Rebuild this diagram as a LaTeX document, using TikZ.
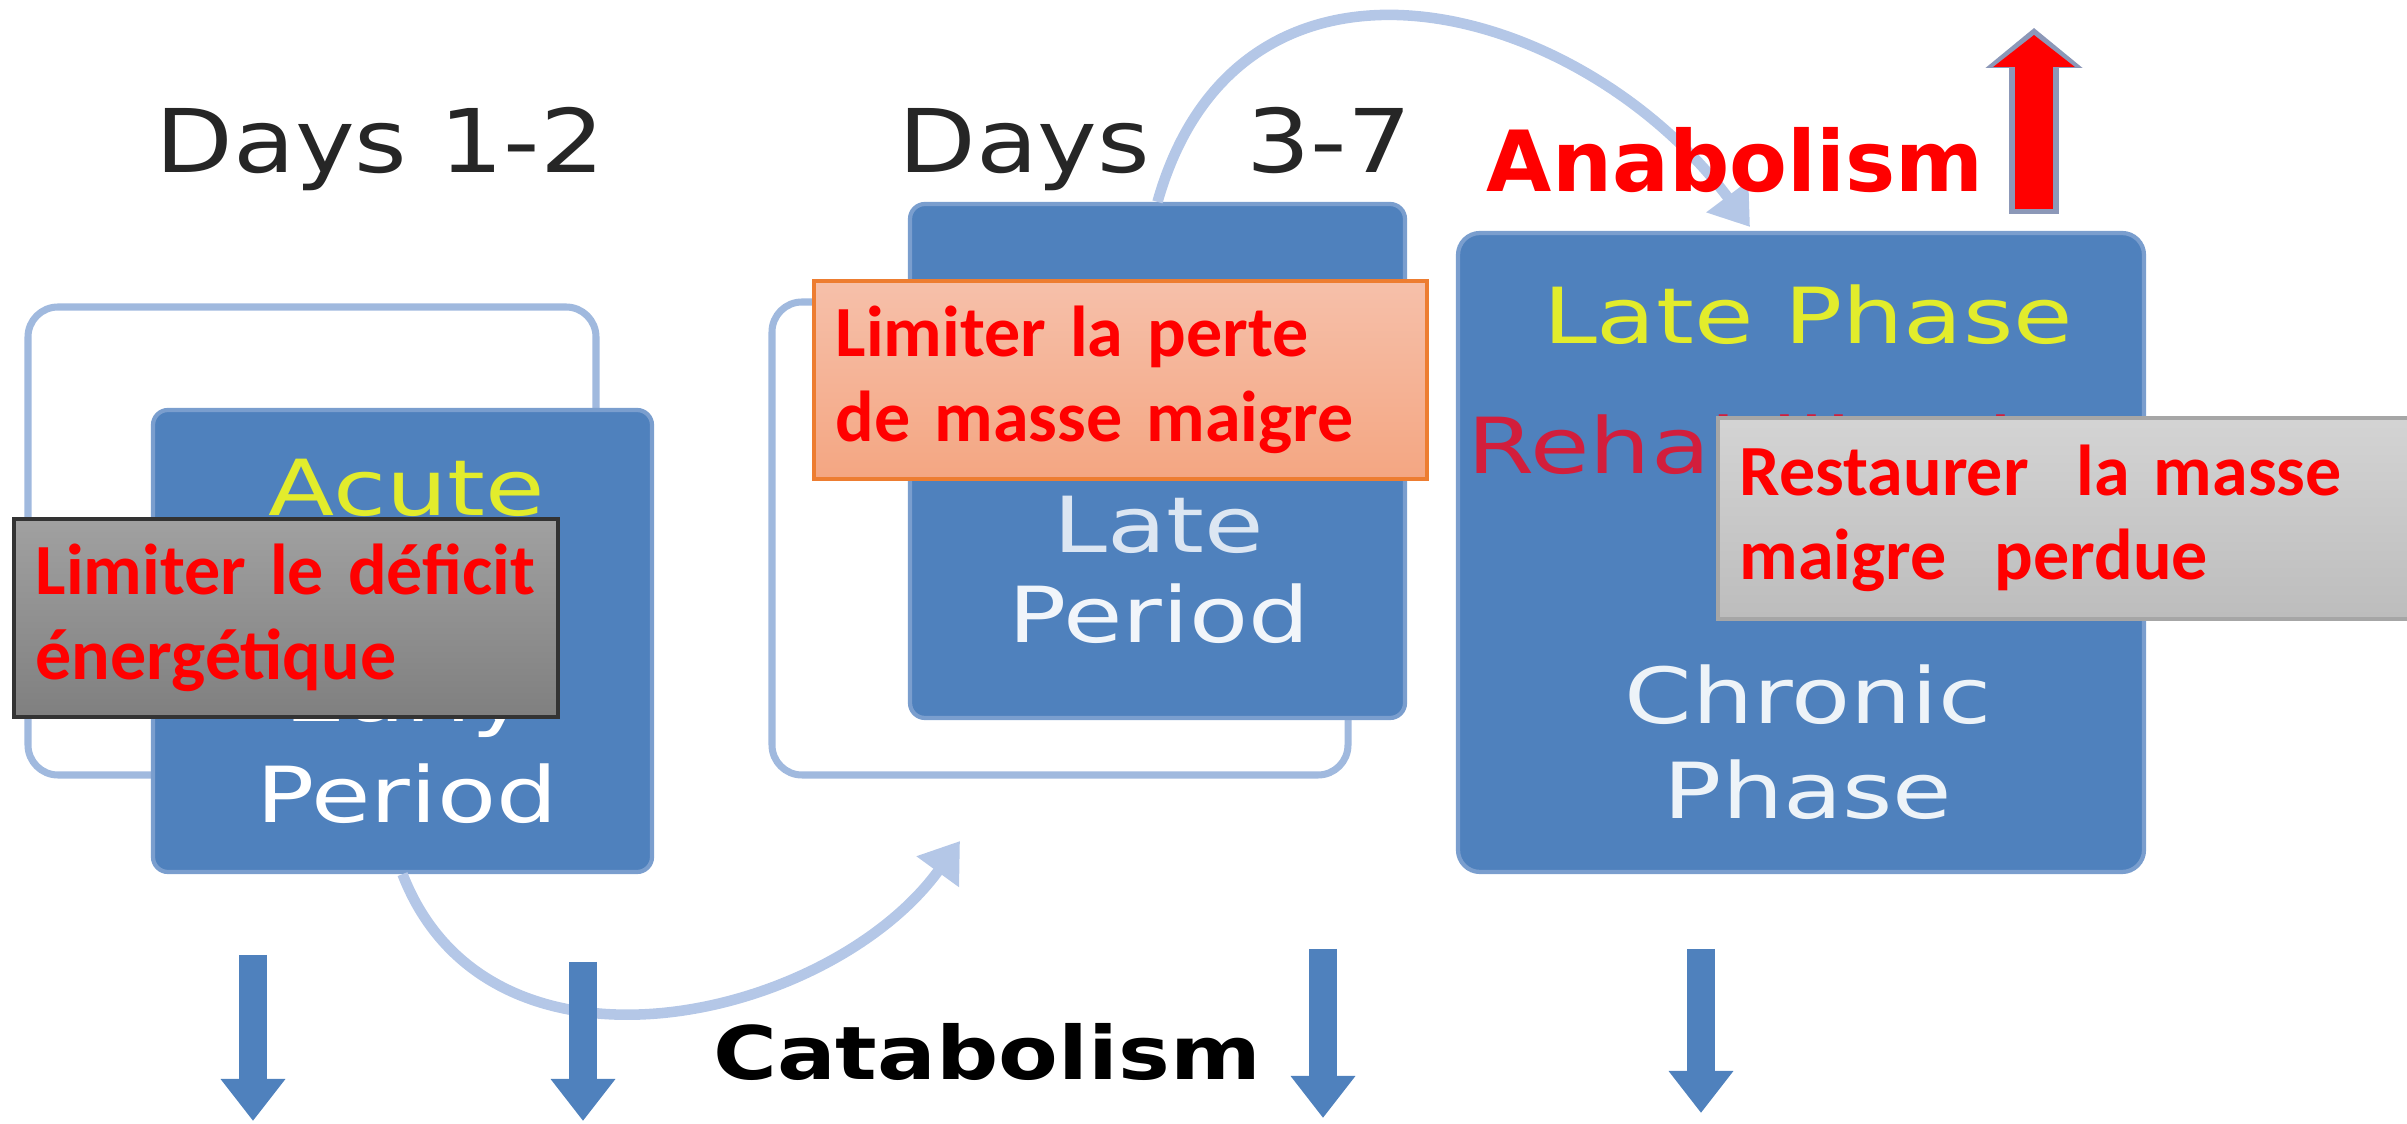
\documentclass[tikz,border=0pt]{standalone}
\usepackage{fontspec}
\setmainfont{DejaVu Sans}
\newfontfamily\widefont[FakeStretch=1.25]{DejaVu Sans}
\newfontfamily\dayfont[FakeStretch=1.15]{DejaVu Sans}
\newfontfamily\catfont[FakeStretch=1.18]{DejaVu Sans}
\newfontfamily\callfont{Carlito}
\usetikzlibrary{arrows.meta}

\definecolor{boxblue}{RGB}{79,129,189}
\definecolor{boxedge}{RGB}{122,158,206}
\definecolor{loopblue}{RGB}{160,185,222}
\definecolor{curveblue}{RGB}{180,199,231}
\definecolor{phaseyellow}{RGB}{226,236,44}
\definecolor{rehabred}{RGB}{210,30,60}
\definecolor{calloutred}{RGB}{255,0,0}
\definecolor{salmontop}{RGB}{246,192,170}
\definecolor{salmonbot}{RGB}{244,166,130}
\definecolor{salmonedge}{RGB}{237,125,49}
\definecolor{anaedge}{RGB}{140,152,184}

\begin{document}
\begin{tikzpicture}[x=1cm,y=-1cm,
    loopbox/.style={rectangle,rounded corners=0.3cm,draw=loopblue,line width=2pt,inner sep=0},
    phasebox/.style={rectangle,rounded corners=0.15cm,fill=boxblue,draw=boxedge,line width=1.2pt,inner sep=0},
    boxtext/.style={font=\widefont\fontsize{22}{26}\selectfont,text=white,inner sep=0},
    daytext/.style={font=\dayfont\fontsize{25}{30}\selectfont,text=black!85,inner sep=0},
    callout/.style={rectangle,anchor=north west,inner xsep=0.22cm,inner ysep=0,align=left,
      font=\callfont\bfseries\fontsize{20.5}{24}\selectfont,text=calloutred},
    curvearrow/.style={draw=curveblue,line width=3pt,-{Triangle[width=0.5cm,length=0.38cm]}},
    downarrow/.style={draw=boxblue,line width=0.28cm,-{Triangle[width=0.62cm,length=0.42cm]}}]
    \useasboundingbox (0,0) rectangle (24.07,11.24);

    % loops behind the first two periods
    \node[loopbox,minimum width=5.68cm,minimum height=4.68cm] (loopA) at (3.12,5.41) {};
    \node[loopbox,minimum width=5.76cm,minimum height=4.73cm] (loopB) at (10.60,5.385) {};

    % the three phases
    \node[phasebox,minimum width=4.99cm,minimum height=4.62cm] (early) at (4.025,6.41) {};
    \node[phasebox,minimum width=4.95cm,minimum height=5.14cm] (late) at (11.575,4.61) {};
    \node[phasebox,minimum width=6.86cm,minimum height=6.39cm,rounded corners=0.22cm] (chronic) at (18.01,5.525) {};

    \node[boxtext,text=phaseyellow] (acuteA) at (4.07,4.88) {Acute};
    \node[boxtext] (earlyA) at (4.07,7.00) {Early};
    \node[boxtext] (periodA) at (4.07,7.94) {Period};
    \node[boxtext,text=phaseyellow] (acuteB) at (11.59,3.12) {Acute};
    \node[boxtext,text=white!80!boxblue] (lateB) at (11.59,5.25) {Late};
    \node[boxtext,text=white!92!boxblue] (periodB) at (11.59,6.14) {Period};
    \node[boxtext,text=phaseyellow] (latephase) at (18.08,3.15) {Late Phase};
    \node[boxtext,text=rehabred] (rehab) at (18.01,4.45) {Rehabilitation};
    \node[boxtext,text=white!90!boxblue] (chronicC) at (18.08,6.95) {Chronic};
    \node[boxtext,text=white!90!boxblue] (phaseC) at (18.08,7.90) {Phase};

    % curved arrows between the phases
    \coordinate (intoB) at (9.60,8.41);
    \coordinate (intoC) at (17.50,2.27);
    \draw[curvearrow] (early.south) .. controls (4.9,11.0) and (8.3,10.2) .. (intoB);
    \draw[curvearrow] (late.north) .. controls (12.4,-0.9) and (15.8,0.0) .. (intoC);

    % goals
    \node[callout,draw=black!80,line width=1pt,top color=black!37,bottom color=black!50,
      text width=5.0cm,minimum height=1.98cm] (goalA) at (0.12,5.17)
      {\mbox{Limiter le déficit}\\énergétique};
    \node[callout,draw=salmonedge,line width=1pt,top color=salmontop,bottom color=salmonbot,
      text width=5.69cm,minimum height=1.98cm] (goalB) at (8.12,2.79)
      {Limiter la perte\\de masse maigre};
    \node[callout,draw=black!35,line width=1pt,top color=black!17,bottom color=black!26,
      text width=6.50cm,minimum height=2.01cm] (goalC) at (17.16,4.16)
      {Restaurer\ \ la masse\\maigre\ \ perdue};

    % days and metabolism
    \node[daytext] (days12) at (3.80,1.49) {Days 1-2};
    \node[daytext] (days37) at (11.55,1.49) {Days\ \ \ 3-7};
    \node[font=\bfseries\fontsize{24}{28}\selectfont,text=calloutred,inner sep=0] (anabolism) at (17.35,1.60) {Anabolism};
    \node[font=\catfont\bfseries\fontsize{21}{25}\selectfont,text=black,fill=white,inner sep=2pt] (catabolism) at (9.87,10.52) {Catabolism};

    \coordinate (anabot) at (20.34,2.14);
    \coordinate (anatop) at (20.34,0.28);
    \draw[draw=anaedge,line width=0.50cm,-{Triangle[width=0.95cm,length=0.40cm]}] (anabot) -- (anatop);
    \draw[draw=red,line width=0.38cm,shorten <=0.05cm,shorten >=0.07cm,-{Triangle[width=0.80cm,length=0.32cm]}] (anabot) -- (anatop);

    \coordinate (downA1) at (2.53,9.55);
    \coordinate (downA2) at (5.83,9.62);
    \coordinate (downB) at (13.23,9.49);
    \coordinate (downC) at (17.01,9.49);
    \draw[downarrow] (downA1) -- (2.53,11.21);
    \draw[downarrow] (downA2) -- (5.83,11.21);
    \draw[downarrow] (downB) -- (13.23,11.18);
    \draw[downarrow] (downC) -- (17.01,11.13);
\end{tikzpicture}
\end{document}
